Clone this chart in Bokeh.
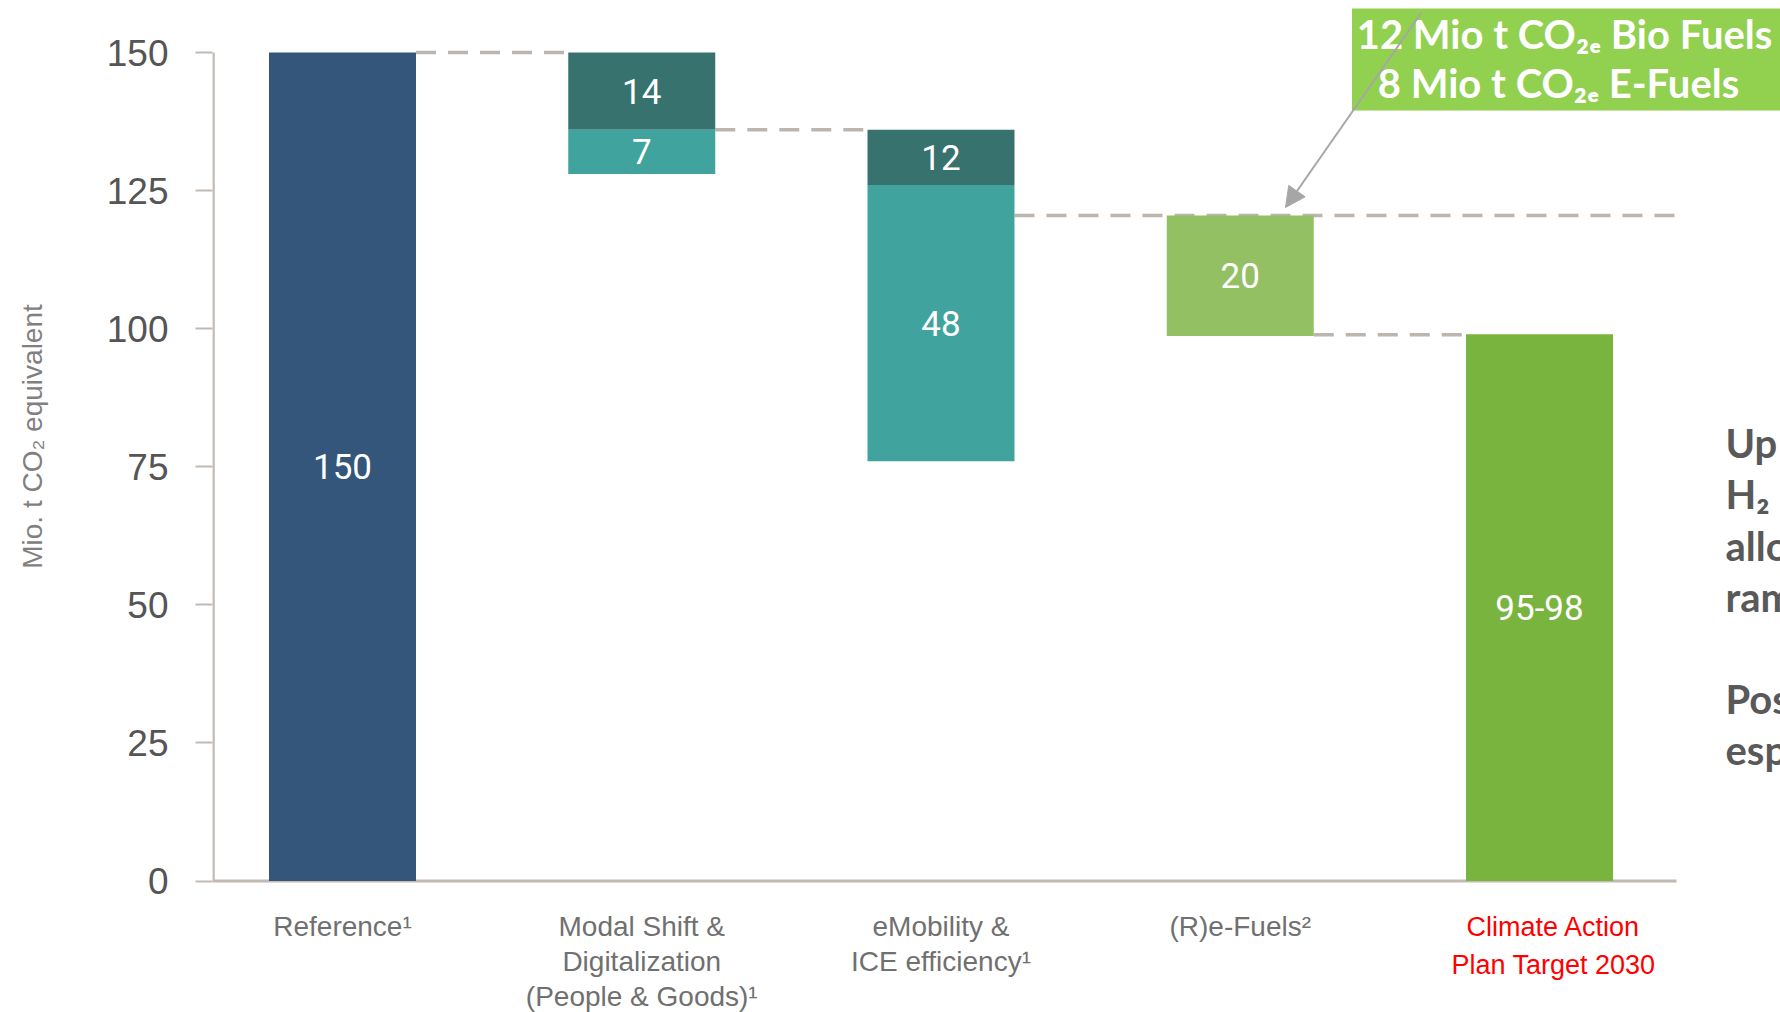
import math
from bokeh.plotting import figure
from bokeh.models import Range1d, FixedTicker, ColumnDataSource, Arrow, NormalHead
from bokeh.core.properties import value
from bokeh.embed import file_html
from bokeh.resources import INLINE

# ---------------- data ----------------
categories = ["Reference¹", "Modal Shift &\nDigitalization\n(People & Goods)¹",
              "eMobility &\nICE efficiency¹", "(R)e-Fuels²", "Climate Action\nPlan Target 2030"]
seg_cat = [0, 1, 1, 2, 2, 3, 4]
seg_bottom = [0, 136, 128, 126, 76, 98.7, 0]
seg_top = [150, 150, 136, 136, 126, 120.5, 99]
seg_label = ["150", "14", "7", "12", "48", "20", "95-98"]
conn_level = [150, 136, 120.5, 98.9]
conn_from = [0, 1, 2, 3]
conn_to = [1, 2, None, 4]          # None -> runs to the end of the axis
y_ticks = [0, 25, 50, 75, 100, 125, 150]
y_title = "Mio. t CO₂ equivalent"
note_lines = ["12 Mio t CO₂ₑ Bio Fuels", "8 Mio t CO₂ₑ E-Fuels"]
side_lines = ["Up", "H₂", "allo", "ram", "Pos", "esp"]

# ---------------- styles ----------------
seg_colors = ["#35567b", "#37726f", "#41a39d", "#37726f", "#41a39d", "#93c062", "#79b43f"]
axis_col = "#c0b9b4"
dash_col = "#bdb5b0"

W, H = 1780, 1012
left = 212
px_unit_x = 299.25
x0_px = 342.0
px_unit_y = 5.523
y0_px = 880.5

def dx(px):
    return (px - x0_px) / px_unit_x

def dy(py):
    return (y0_px - py) / px_unit_y

x_start, x_end = dx(left), dx(W)
y_start, y_end = dy(H), dy(0)
bw = 147 / px_unit_x
axis_end = dx(1676)

p = figure(width=W, height=H, x_range=Range1d(x_start, x_end), y_range=Range1d(y_start, y_end),
           output_backend="svg", toolbar_location=None, x_axis_location=None,
           min_border_left=left, min_border_right=0, min_border_top=0, min_border_bottom=0)
p.outline_line_color = None
p.xgrid.visible = False
p.ygrid.visible = False
p.background_fill_color = "white"

ax = p.yaxis[0]
ax.ticker = FixedTicker(ticks=y_ticks)
ax.axis_line_color = None
ax.major_tick_out = 17
ax.major_tick_in = 0
ax.major_tick_line_color = axis_col
ax.major_tick_line_width = 2
ax.minor_tick_line_color = None
ax.major_label_text_font = "Liberation Sans"
ax.major_label_text_font_size = "37px"
ax.major_label_text_color = "#555555"
ax.major_label_standoff = 27
# leading em spaces lift the centred title to the reference position
ax.axis_label = "\u2003\u2003\u2003\u2003\u2003" + y_title
ax.axis_label_text_font = "Liberation Sans"
ax.axis_label_text_font_size = "28px"
ax.axis_label_text_font_style = "normal"
ax.axis_label_text_color = "#808080"
ax.axis_label_standoff = 56

# axis lines
p.segment(x0=[dx(213)], y0=[0], x1=[dx(213)], y1=[max(y_ticks)], line_color=axis_col, line_width=2.5)
p.segment(x0=[x_start], y0=[0], x1=[axis_end], y1=[0], line_color=axis_col, line_width=3)

# connectors
cx0 = [c + bw / 2 for c in conn_from]
cx1 = [(t - bw / 2) if t is not None else axis_end for t in conn_to]
p.segment(x0=cx0, y0=conn_level, x1=cx1, y1=conn_level, line_color=dash_col,
          line_width=3.5, line_dash="20 12")

# bars
src = ColumnDataSource(dict(x=seg_cat, bottom=seg_bottom, top=seg_top, color=seg_colors,
                            label=seg_label,
                            mid=[(b + t) / 2 for b, t in zip(seg_bottom, seg_top)]))
p.vbar(x="x", bottom="bottom", top="top", width=bw, fill_color="color", line_color=None, source=src)
p.text(x="x", y="mid", text="label", source=src, text_color="white",
       text_font=value("Roboto"), text_font_size="35px", text_align="center", text_baseline="middle")

# category labels
lx, ly, lt, lc, ls = [], [], [], [], []
for i, cat in enumerate(categories):
    red = i == len(categories) - 1
    for j, line in enumerate(cat.split("\n")):
        lx.append(i + (14 / px_unit_x if red else 0))
        ly.append(dy(926 + j * (38 if red else 35)))
        lt.append(line)
        lc.append("#ff0000" if red else "#707070")
        ls.append("27px" if red else "28px")
p.text(x=lx, y=ly, text=lt, text_color=lc, text_font=value("Liberation Sans"),
       text_font_size=ls, text_align="center", text_baseline="middle")

# note box
p.quad(left=[dx(1351.5)], right=[x_end], top=[dy(8)], bottom=[dy(110)], fill_color="#92d050",
       line_color=None)
p.text(x=[dx(1564), dx(1558)], y=[dy(33), dy(82)], text=note_lines, text_color="white",
       text_font=value("Lato"), text_font_style="bold", text_font_size="40px",
       text_align="center", text_baseline="middle")
p.add_layout(Arrow(end=NormalHead(size=20, fill_color="#a6a6a6", line_color="#a6a6a6"),
                   x_start=dx(1421), y_start=dy(12), x_end=dx(1285), y_end=dy(207),
                   line_color="#a6a6a6", line_width=2))

# side text
side_y = [442.7, 493.8, 545, 596, 698, 749]
p.text(x=[dx(1725)] * len(side_lines), y=[dy(v) for v in side_y], text=side_lines,
       text_color="#595959", text_font=value("Lato"), text_font_style="bold",
       text_font_size="40px", text_align="left", text_baseline="middle")

open("out.html", "w").write(file_html(p, INLINE))
